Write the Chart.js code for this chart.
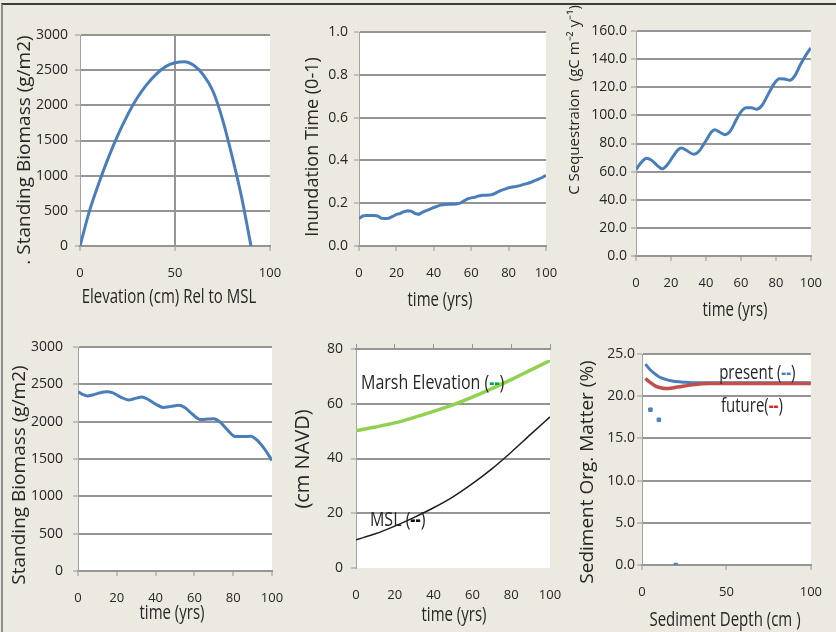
<!DOCTYPE html>
<html lang="en">
<head>
<meta charset="UTF-8">
<title>Marsh Model Panels</title>
<script src="https://cdn.jsdelivr.net/npm/chart.js"></script>
<style>
  html, body { margin: 0; padding: 0; }
  body { width: 836px; height: 632px; background: #ECE9E0; position: relative; overflow: hidden; }
  #frame { position: absolute; left: 1px; top: 3px; right: 0; bottom: 0; border-top: 2px solid #3c3c3c; border-left: 2px solid #8c8c8c; }
  canvas { position: absolute; left: 0; top: 0; }
</style>
</head>
<body>
<div id="frame"></div>
<canvas id="c1" width="836" height="632"></canvas>
<canvas id="c2" width="836" height="632"></canvas>
<canvas id="c3" width="836" height="632"></canvas>
<canvas id="c4" width="836" height="632"></canvas>
<canvas id="c5" width="836" height="632"></canvas>
<canvas id="c6" width="836" height="632"></canvas>

<script>
// panel 1: biomass vs elevation
const elevCm = [0, 5, 10, 15, 20, 25, 30, 35, 40, 45, 50, 55, 60, 65, 70, 75, 80, 85, 90];
const biomassByElev = [0, 500, 900, 1260, 1580, 1860, 2100, 2290, 2440, 2550, 2605, 2620, 2565, 2430, 2200, 1800, 1280, 700, 0];

// panel 2: inundation time
const inundYears = [0, 2, 4, 6, 8, 10, 12, 14, 16, 18, 20, 22, 24, 26, 28, 30, 32, 34, 36, 38, 40, 42, 44, 46, 48, 50,
  52, 54, 56, 58, 60, 62, 64, 66, 68, 70, 72, 74, 76, 78, 80, 82, 84, 86, 88, 90, 92, 94, 96, 98, 100];
const inundation = [0.128, 0.140, 0.142, 0.142, 0.142, 0.140, 0.130, 0.128, 0.130, 0.138, 0.148, 0.152, 0.160, 0.165, 0.163,
  0.152, 0.148, 0.158, 0.165, 0.172, 0.180, 0.186, 0.192, 0.194, 0.195, 0.195, 0.196, 0.200, 0.210, 0.220, 0.225,
  0.228, 0.234, 0.237, 0.237, 0.238, 0.243, 0.252, 0.260, 0.266, 0.272, 0.276, 0.278, 0.282, 0.288, 0.292, 0.298,
  0.305, 0.312, 0.320, 0.330];

// panel 3: carbon sequestration
const cseqYears = [0, 3, 6, 9, 12, 15, 18, 21, 24, 26, 29, 33, 36, 40, 43, 45, 48, 51, 54, 57, 60, 63, 66, 69, 72, 76, 79, 82, 85, 88, 91, 94, 97, 100];
const cseq = [61.5, 66.5, 69.5, 68, 64.5, 62, 65, 70.5, 75.5, 76.8, 75, 72.3, 74.5, 82, 88, 89.8, 88, 86.3, 89, 96, 102.5, 105.5,
  105.5, 104.3, 107, 116, 122.5, 126, 125.8, 125, 128.5, 136, 142.5, 148];

// panel 4: biomass over time
const bmYears = [0, 2, 5, 8, 11, 15, 18, 22, 26, 30, 33, 36, 40, 44, 48, 52, 55, 59, 63, 67, 70, 73, 77, 81, 85, 89, 92, 96, 100];
const biomassByYear = [2400, 2370, 2345, 2360, 2385, 2400, 2385, 2330, 2290, 2315, 2330, 2300, 2235, 2190, 2205, 2220, 2190,
  2100, 2030, 2035, 2040, 2000, 1890, 1800, 1800, 1805, 1760, 1640, 1480];

// panel 5: marsh elevation and sea level
const elevYears = [0, 10, 20, 30, 40, 50, 60, 70, 80, 90, 100];
const marshElev = [50.2, 51.5, 53, 55, 57.2, 59.6, 62.4, 65.5, 68.8, 72.3, 75.8];
const msl = [10.3, 12.5, 15.3, 18.5, 22, 26, 30.8, 36.2, 42.3, 48.8, 55.2];

// panel 6: sediment organic matter
const depthPresent = [2, 5, 8, 10, 14, 18, 22, 26, 30, 40, 60, 80, 100];
const omPresent = [23.8, 23.1, 22.6, 22.3, 22.0, 21.8, 21.7, 21.65, 21.6, 21.6, 21.6, 21.6, 21.6];
const depthFuture = [2, 5, 8, 11, 14, 17, 20, 25, 30, 40, 60, 80, 100];
const omFuture = [22.1, 21.6, 21.2, 21.0, 20.9, 20.95, 21.05, 21.2, 21.35, 21.5, 21.5, 21.5, 21.5];
const depthObs = [5, 10, 20];
const omObs = [18.4, 17.2, 0];

const GRID = '#959595';
const TEXT = '#262626';
const BLUE = '#4A7EBB';
Chart.defaults.font.family = '"Open Sans", sans-serif';
Chart.defaults.color = TEXT;

function xy(xs, ys) {
  return xs.map((x, i) => ({ x: x, y: ys[i] }));
}

function lineSet(data, color, width, extra) {
  return Object.assign({
    type: 'line', data: data, borderColor: color, backgroundColor: color,
    borderWidth: width, pointRadius: 0, fill: false, cubicInterpolationMode: 'monotone'
  }, extra || {});
}

// titles and in-plot notes, drawn as canvas text
const decor = {};
const decorPlugin = {
  id: 'decor',
  beforeDraw(chart) {
    const a = chart.chartArea, ctx = chart.ctx;
    ctx.save();
    ctx.fillStyle = '#ffffff';
    ctx.fillRect(a.left, a.top, a.right - a.left, a.bottom - a.top);
    ctx.restore();
  },
  afterDraw(chart) {
    const d = decor[chart.canvas.id];
    if (!d) return;
    const ctx = chart.ctx;
    ctx.save();
    ctx.fillStyle = TEXT;
    ctx.textBaseline = 'middle';
    ctx.textAlign = 'center';
    ctx.font = d.yTitle.size + 'px "Open Sans"';
    ctx.translate(d.yTitle.x, d.yTitle.y);
    ctx.rotate(-Math.PI / 2);
    ctx.fillText(d.yTitle.text, 0, 0);
    ctx.restore();

    // the source picture is stretched a little in height
    ctx.save();
    ctx.fillStyle = TEXT;
    ctx.textBaseline = 'middle';
    ctx.textAlign = 'center';
    ctx.font = d.xTitle.size + 'px "Open Sans"';
    ctx.translate(d.xTitle.x, d.xTitle.y);
    ctx.scale(1, 1.3);
    ctx.fillText(d.xTitle.text, 0, 0);
    ctx.restore();

    (d.notes || []).forEach(n => {
      let px = chart.scales.x.getPixelForValue(n.x);
      const py = chart.scales.y.getPixelForValue(n.y);
      ctx.save();
      ctx.translate(0, py);
      ctx.scale(1, 1.3);
      ctx.textBaseline = 'middle';
      ctx.textAlign = 'left';
      n.parts.forEach(p => {
        ctx.font = (p.bold ? 'bold ' : '') + n.size + 'px "Open Sans"';
        ctx.fillStyle = p.color || TEXT;
        ctx.fillText(p.text, px, 0);
        px += ctx.measureText(p.text).width;
      });
      ctx.restore();
    });
  }
};

function makePanel(p) {
  decor[p.id] = { yTitle: p.yTitle, xTitle: p.xTitle, notes: p.notes };
  const scales = {
    x: {
      type: 'linear', min: 0, max: 100,
      ticks: { stepSize: p.xStep, padding: p.noBottomAxis ? 19 : 14, autoSkip: false, maxRotation: 0, color: TEXT, font: { size: 13 } },
      grid: {
        drawOnChartArea: !!p.xGridAt,
        drawTicks: !p.noBottomAxis,
        color: c => (c.tick && c.tick.value === p.xGridAt) ? GRID : 'rgba(0,0,0,0)',
        tickColor: GRID, tickLength: 5, tickWidth: 1, lineWidth: 2
      },
      border: { display: !p.noBottomAxis, color: GRID, width: 2 },
      afterFit: s => { s.height = 45; }
    },
    y: {
      min: p.yMin, max: p.yMax,
      ticks: { stepSize: p.yStep, padding: p.yGap - 5, color: TEXT, font: { size: 14 },
        callback: v => Number(v).toFixed(p.yDec) },
      grid: {
        color: c => (p.noBottomAxis && c.tick && c.tick.value === 0) ? 'rgba(0,0,0,0)' : GRID,
        tickColor: GRID, tickLength: 5, tickWidth: 1, lineWidth: 2
      },
      border: { display: true, color: '#a3a3a3', width: 1 },
      afterFit: s => { s.width = 60; }
    }
  };
  if (p.topAxis) {
    scales.x2 = {
      type: 'linear', position: 'top', min: 0, max: 100,
      ticks: { stepSize: p.xStep, display: false },
      grid: { drawOnChartArea: false, tickColor: GRID, tickLength: 5, tickWidth: 1 },
      border: { display: true, color: GRID, width: 2 },
      afterFit: s => { s.height = 0; }
    };
  }
  new Chart(document.getElementById(p.id), {
    type: 'line',
    data: { datasets: p.datasets },
    options: {
      responsive: false, animation: false, events: [],
      layout: { padding: { left: p.L - 60, top: p.T, right: 836 - p.R, bottom: 632 - p.B - 45 } },
      plugins: { legend: { display: false }, tooltip: { enabled: false } },
      scales: scales
    },
    plugins: [decorPlugin]
  });
}

makePanel({
  id: 'c1', L: 80, T: 35, R: 270, B: 246, xStep: 50, xGridAt: 50,
  yMin: 0, yMax: 3000, yStep: 500, yDec: 0, yGap: 12,
  yTitle: { text: '. Standing Biomass (g/m2)', x: 25, y: 150, size: 19 },
  xTitle: { text: 'Elevation (cm) Rel to MSL', x: 169, y: 297, size: 15 },
  datasets: [lineSet(xy(elevCm, biomassByElev), BLUE, 3)]
});

makePanel({
  id: 'c2', L: 359, T: 32, R: 546, B: 246, xStep: 20,
  yMin: 0, yMax: 1, yStep: 0.2, yDec: 1, yGap: 11,
  yTitle: { text: 'Inundation Time (0-1)', x: 313, y: 147, size: 18 },
  xTitle: { text: 'time (yrs)', x: 440, y: 300, size: 15 },
  datasets: [lineSet(xy(inundYears, inundation), BLUE, 3, { cubicInterpolationMode: 'default', tension: 0 })]
});

makePanel({
  id: 'c3', L: 636, T: 31, R: 819, B: 256, xStep: 20,
  yMin: 0, yMax: 160, yStep: 20, yDec: 1, yGap: 9,
  yTitle: { text: 'C Sequestraion  (gC m\u207B\u00B2 y\u207B\u00B9)', x: 575, y: 100, size: 15 },
  xTitle: { text: 'time (yrs)', x: 735, y: 310, size: 15 },
  datasets: [lineSet(xy(cseqYears, cseq), BLUE, 3)]
});

makePanel({
  id: 'c4', L: 78, T: 347, R: 272, B: 571, xStep: 20,
  yMin: 0, yMax: 3000, yStep: 500, yDec: 0, yGap: 15,
  yTitle: { text: 'Standing Biomass (g/m2)', x: 20, y: 475, size: 19 },
  xTitle: { text: 'time (yrs)', x: 172, y: 613, size: 15 },
  datasets: [lineSet(xy(bmYears, biomassByYear), BLUE, 3)]
});

makePanel({
  id: 'c5', L: 356, T: 349, R: 550, B: 568, xStep: 20, noBottomAxis: true, topAxis: true,
  yMin: 0, yMax: 80, yStep: 20, yDec: 0, yGap: 13,
  yTitle: { text: '(cm NAVD)', x: 303, y: 459, size: 20 },
  xTitle: { text: 'time (yrs)', x: 454, y: 615, size: 15 },
  notes: [
    { x: 2.6, y: 67.6, size: 16, parts: [{ text: 'Marsh Elevation (' }, { text: '--', color: '#00B050', bold: true }, { text: ')' }] },
    { x: 7.2, y: 17.5, size: 16, parts: [{ text: 'MSL (' }, { text: '--', color: '#111', bold: true }, { text: ')' }] }
  ],
  datasets: [
    lineSet(xy(elevYears, marshElev), '#92D050', 3.5),
    lineSet(xy(elevYears, msl), '#1e1e1e', 1.5)
  ]
});

makePanel({
  id: 'c6', L: 642, T: 354, R: 815, B: 565, xStep: 50,
  yMin: 0, yMax: 25, yStep: 5, yDec: 1, yGap: 7,
  yTitle: { text: 'Sediment Org. Matter (%)', x: 588, y: 472, size: 19 },
  xTitle: { text: 'Sediment Depth (cm )', x: 725, y: 620, size: 15 },
  notes: [
    { x: 45.7, y: 22.75, size: 15, parts: [{ text: 'present (' }, { text: '--', color: BLUE, bold: true }, { text: ')' }] },
    { x: 46.8, y: 18.84, size: 15, parts: [{ text: 'future(' }, { text: '--', color: '#E02020', bold: true }, { text: ')' }] }
  ],
  datasets: [
    lineSet(xy(depthPresent, omPresent), BLUE, 3, { order: 2 }),
    lineSet(xy(depthFuture, omFuture), '#C0504D', 3.5, { order: 1 }),
    { type: 'scatter', data: xy(depthObs, omObs), showLine: false, pointRadius: 2.5, pointStyle: 'rect',
      backgroundColor: '#4F81BD', borderColor: '#4F81BD', order: 0 }
  ]
});
</script>
</body>
</html>
